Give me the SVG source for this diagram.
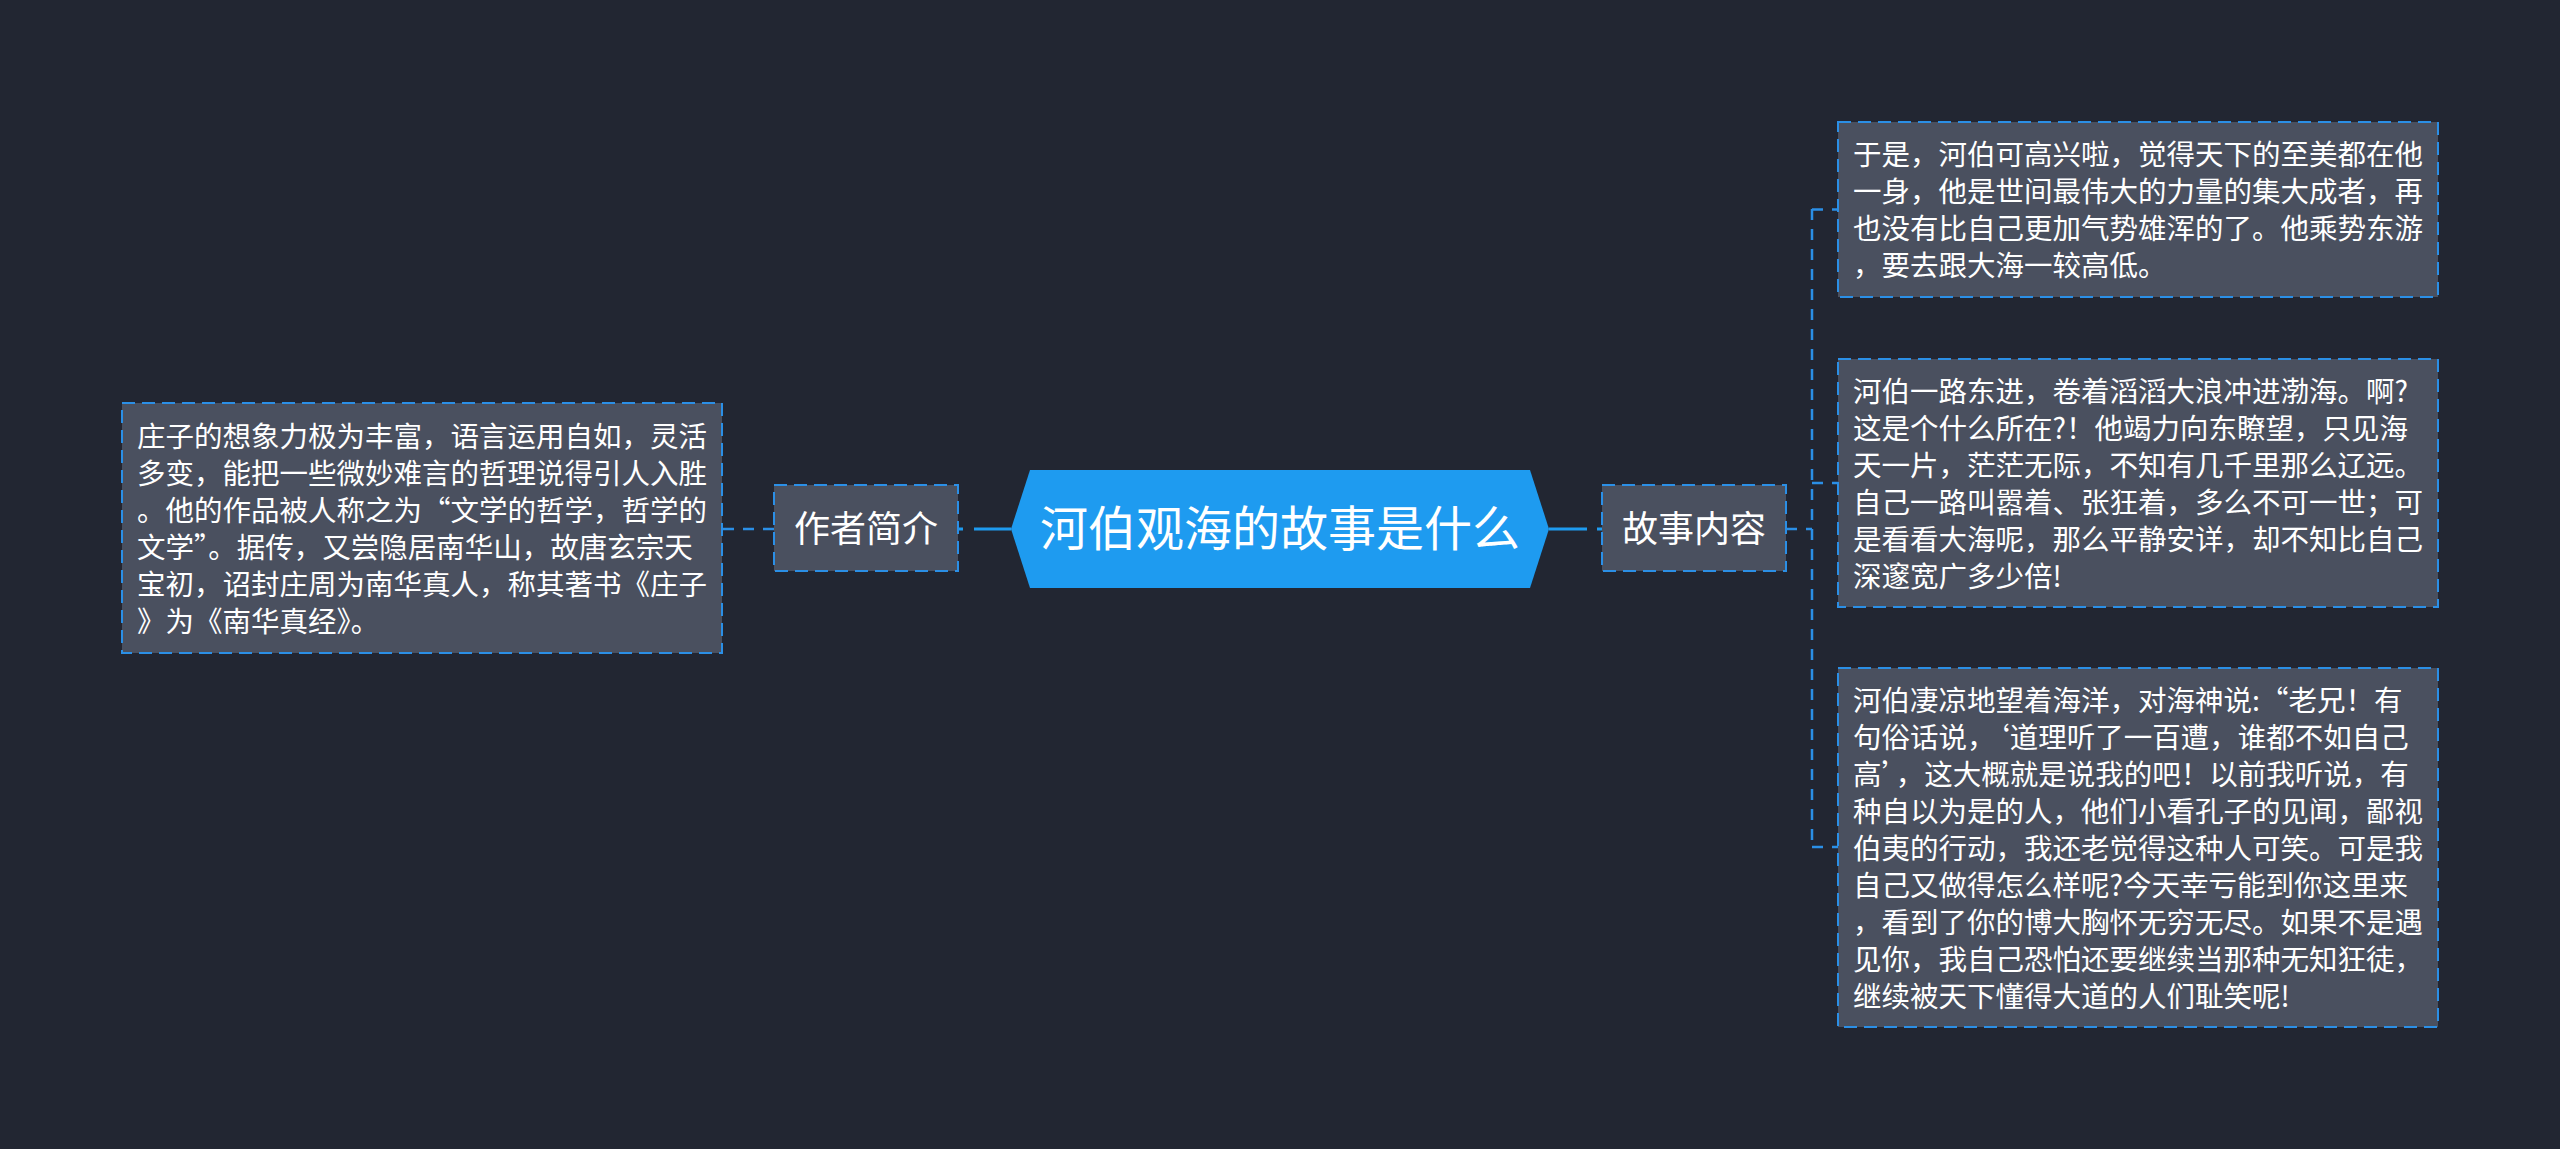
<svg xmlns="http://www.w3.org/2000/svg" width="2560" height="1149" viewBox="0 0 2560 1149">
<style>
.bg{fill:#222632}
.box{fill:#4a505f;stroke:#2b8fe6;stroke-width:2;stroke-dasharray:13 7}
.txt{font-family:"Noto Sans CJK SC","Noto Sans",sans-serif;fill:#ffffff}
.body{font-size:28.5px}
.lbl{font-size:36px;text-anchor:middle}
.main{font-size:48px;text-anchor:middle}
.conn{fill:none;stroke:#2b8fe6;stroke-width:2.5;stroke-dasharray:11 9}
.conn-main{fill:none;stroke:#1e9bf0;stroke-width:3}
</style>
<rect class="bg" x="0" y="0" width="2560" height="1149"/>
<g id="connectors">
  <path class="conn-main" d="M1549,529 H1602" stroke-dasharray="38 10"/>
  <path class="conn-main" d="M1011,529 H958" stroke-dasharray="37 11"/>
  <path class="conn" d="M774,529 H722"/>
  <path class="conn" d="M1786,529 H1812"/>
  <path class="conn" d="M1812,209 V847"/>
  <path class="conn" d="M1812,209.5 H1838"/>
  <path class="conn" d="M1812,483 H1838"/>
  <path class="conn" d="M1812,847 H1838"/>
</g>
<g id="root">
  <polygon points="1011,529 1030,470 1530,470 1549,529 1530,588 1030,588" fill="#1e9bf0"/>
  <text class="txt main" x="1280" y="546">河伯观海的故事是什么</text>
</g>
<g id="story">
  <rect class="box" x="1602" y="485" width="184" height="86"/>
  <text class="txt lbl" x="1694" y="542">故事内容</text>
</g>
<g id="author">
  <rect class="box" x="774" y="485" width="184" height="86"/>
  <text class="txt lbl" x="866" y="542">作者简介</text>
</g>
<g id="author-text">
  <rect class="box" x="122" y="403" width="600" height="250"/>
  <text class="txt body" x="137" y="446.5">
    <tspan x="137">庄子的想象力极为丰富，语言运用自如，灵活</tspan>
    <tspan x="137" dy="37">多变，能把一些微妙难言的哲理说得引人入胜</tspan>
    <tspan x="137" dy="37">。他的作品被人称之为“文学的哲学，哲学的</tspan>
    <tspan x="137" dy="37">文学”。据传，又尝隐居南华山，故唐玄宗天</tspan>
    <tspan x="137" dy="37">宝初，诏封庄周为南华真人，称其著书《庄子</tspan>
    <tspan x="137" dy="37">》为《南华真经》。</tspan>
  </text>
</g>
<g id="story-1">
  <rect class="box" x="1838" y="122" width="600" height="175"/>
  <text class="txt body" x="1853" y="165">
    <tspan x="1853">于是，河伯可高兴啦，觉得天下的至美都在他</tspan>
    <tspan x="1853" dy="37">一身，他是世间最伟大的力量的集大成者，再</tspan>
    <tspan x="1853" dy="37">也没有比自己更加气势雄浑的了。他乘势东游</tspan>
    <tspan x="1853" dy="37">，要去跟大海一较高低。</tspan>
  </text>
</g>
<g id="story-2">
  <rect class="box" x="1838" y="359" width="600" height="248"/>
  <text class="txt body" x="1853" y="401.5">
    <tspan x="1853">河伯一路东进，卷着滔滔大浪冲进渤海。啊?</tspan>
    <tspan x="1853" dy="37">这是个什么所在?！他竭力向东瞭望，只见海</tspan>
    <tspan x="1853" dy="37">天一片，茫茫无际，不知有几千里那么辽远。</tspan>
    <tspan x="1853" dy="37">自己一路叫嚣着、张狂着，多么不可一世；可</tspan>
    <tspan x="1853" dy="37">是看看大海呢，那么平静安详，却不知比自己</tspan>
    <tspan x="1853" dy="37">深邃宽广多少倍!</tspan>
  </text>
</g>
<g id="story-3">
  <rect class="box" x="1838" y="668" width="600" height="359"/>
  <text class="txt body" x="1853" y="710.5">
    <tspan x="1853">河伯凄凉地望着海洋，对海神说:“老兄！有</tspan>
    <tspan x="1853" dy="37">句俗话说，‘道理听了一百遭，谁都不如自己</tspan>
    <tspan x="1853" dy="37">高’，这大概就是说我的吧！以前我听说，有</tspan>
    <tspan x="1853" dy="37">种自以为是的人，他们小看孔子的见闻，鄙视</tspan>
    <tspan x="1853" dy="37">伯夷的行动，我还老觉得这种人可笑。可是我</tspan>
    <tspan x="1853" dy="37">自己又做得怎么样呢?今天幸亏能到你这里来</tspan>
    <tspan x="1853" dy="37">，看到了你的博大胸怀无穷无尽。如果不是遇</tspan>
    <tspan x="1853" dy="37">见你，我自己恐怕还要继续当那种无知狂徒，</tspan>
    <tspan x="1853" dy="37">继续被天下懂得大道的人们耻笑呢!</tspan>
  </text>
</g>
</svg>
